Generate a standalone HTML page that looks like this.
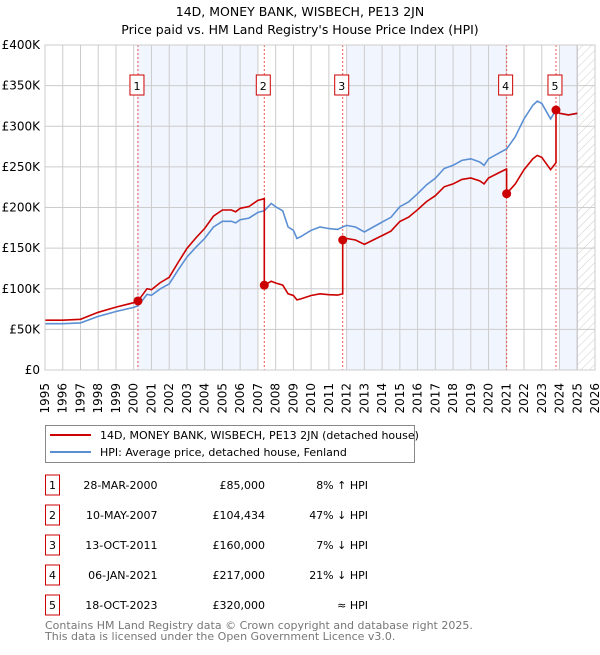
<!DOCTYPE html>
<html><head><meta charset="utf-8"><style>
body{margin:0;background:#fff;font-family:"Liberation Sans","DejaVu Sans",sans-serif;}
svg text{font-family:"DejaVu Sans","Liberation Sans",sans-serif;}
</style></head><body>
<svg width="600" height="650" viewBox="0 0 600 650" xmlns="http://www.w3.org/2000/svg">
<defs><pattern id="hatch" width="6" height="6" patternUnits="userSpaceOnUse" patternTransform="rotate(45)"><line x1="0" y1="0" x2="0" y2="6" stroke="#ccc" stroke-width="1"/></pattern></defs>
<g id="root"></g>
</svg>
<script>
const hpiYears=[1995,1996,1997,1998,1999,2000,2000.24,2000.5,2000.75,2001,2001.5,2002,2002.5,2003,2003.5,2004,2004.5,2005,2005.5,2005.75,2006,2006.5,2007,2007.36,2007.75,2008,2008.4,2008.7,2009,2009.2,2009.4,2010,2010.5,2011,2011.5,2011.78,2012,2012.5,2013,2013.5,2014,2014.5,2015,2015.5,2016,2016.5,2017,2017.5,2018,2018.5,2019,2019.5,2019.75,2020,2020.5,2021,2021.02,2021.5,2022,2022.5,2022.75,2023,2023.5,2023.8,2024,2024.5,2025];
const hpiValues=[57,57,58,66,72,77,79,86,93,92,100,106,123,139,151,162,176,183,183,181,185,187,194,196,205,201,196,176,172,162,164,172,176,174,173,176,178,176,170,176,182,188,201,207,217,228,236,248,252,258,260,256,252,260,266,272,272,287,309,326,331,328,309,320,316,314,316];
const saleYears=[2000.24,2007.36,2011.78,2021.02,2023.8];
const salePrices=[85,104.434,160,217,320];
const saleLabels=["1","2","3","4","5"];
const saleDates=["28-MAR-2000","10-MAY-2007","13-OCT-2011","06-JAN-2021","18-OCT-2023"];
const salePriceText=["£85,000","£104,434","£160,000","£217,000","£320,000"];
const saleHpiText=["8% ↑ HPI","47% ↓ HPI","7% ↓ HPI","21% ↓ HPI","≈ HPI"];
const yTicks=[0,50,100,150,200,250,300,350,400];
const yTickLabels=["£0","£50K","£100K","£150K","£200K","£250K","£300K","£350K","£400K"];
const shadeBands=[[2000.17,2007.0],[2012.0,2021.0],[2024.0,2025.0]];

const NS="http://www.w3.org/2000/svg";
const root=document.getElementById('root');
const L=45,R=595,T=45,B=370,Y0=1995,Y1=2026,VMAX=400;
const xs=y=>L+(y-Y0)/(Y1-Y0)*(R-L);
const ys=v=>B-v/VMAX*(B-T);
function mk(tag,attrs,parent){const e=document.createElementNS(NS,tag);for(const k in attrs)e.setAttribute(k,attrs[k]);(parent||root).appendChild(e);return e;}
function hpiAt(t){if(t<=hpiYears[0])return hpiValues[0];for(let i=1;i<hpiYears.length;i++){if(t<=hpiYears[i]){const f=(t-hpiYears[i-1])/(hpiYears[i]-hpiYears[i-1]);return hpiValues[i-1]+f*(hpiValues[i]-hpiValues[i-1]);}}return hpiValues[hpiValues.length-1];}

shadeBands.forEach((b,i)=>{const r=mk('rect',{x:xs(b[0]),y:T,width:xs(b[1])-xs(b[0]),height:B-T,fill:'#eef3fc',opacity:0.8});

});
const hatch=mk('rect',{x:xs(2025),y:T,width:R-xs(2025),height:B-T,fill:'url(#hatch)'});


mk('line',{x1:xs(2025),y1:T,x2:xs(2025),y2:B,stroke:'#999','stroke-width':1});
for(let y=Y0;y<=Y1;y++){const g=mk('line',{x1:xs(y),y1:T,x2:xs(y),y2:B,stroke:'#ccc','stroke-width':1});


const t=mk('text',{x:0,y:0,transform:`translate(${xs(y)+4},383) rotate(-90)`,'text-anchor':'end','font-size':12,fill:'#000'});t.textContent=y;

}
yTicks.forEach((v,i)=>{const g=mk('line',{x1:L,y1:ys(v),x2:R,y2:ys(v),stroke:'#ccc','stroke-width':1});


const t=mk('text',{x:40,y:ys(v)+4,'text-anchor':'end','font-size':12,fill:'#000'});t.textContent=yTickLabels[i];

});
saleYears.forEach((s,i)=>{const l=mk('line',{x1:xs(s),y1:T,x2:xs(s),y2:B,stroke:'#e55','stroke-width':1,'stroke-dasharray':'2,2'});

});
let d='';hpiYears.forEach((y,i)=>{d+=(i?'L':'M')+xs(y).toFixed(1)+','+ys(hpiValues[i]).toFixed(1);});
const hl=mk('path',{d,fill:'none',stroke:'#5b8fd4','stroke-width':1.6});


const ratios=saleYears.map((s,i)=>salePrices[i]/hpiAt(s));
function ratioFor(t){let r=ratios[0];for(let i=0;i<saleYears.length;i++)if(t>=saleYears[i])r=ratios[i];return r;}
const times=hpiYears.concat(saleYears).filter((v,i,a)=>a.indexOf(v)===i).sort((a,b)=>a-b);
let pd='';let first=true;
times.forEach(t=>{const si=saleYears.indexOf(t);
 if(si>0){const prev=hpiAt(t)*ratios[si-1];pd+='L'+xs(t).toFixed(1)+','+ys(prev).toFixed(1);}
 const v=hpiAt(t)*ratioFor(t);pd+=(first?'M':'L')+xs(t).toFixed(1)+','+ys(v).toFixed(1);first=false;});
const rl=mk('path',{d:pd,fill:'none',stroke:'#cc0000','stroke-width':1.6});


saleYears.forEach((s,i)=>{const c=mk('circle',{cx:xs(s),cy:ys(salePrices[i]),r:4.5,fill:'#cc0000'});


const bx=mk('rect',{x:xs(s)-8,y:75,width:14,height:20,fill:'#fff',stroke:'#cc0000','stroke-width':1});


const t=mk('text',{x:xs(s)-1,y:90,'text-anchor':'middle','font-size':11,fill:'#000'});t.textContent=saleLabels[i];

});
mk('rect',{x:L,y:T,width:R-L,height:B-T,fill:'none',stroke:'#ccc','stroke-width':1});
[["14D, MONEY BANK, WISBECH, PE13 2JN",16,'chart-title'],["Price paid vs. HM Land Registry's House Price Index (HPI)",34,'chart-subtitle']].forEach(a=>{const t=mk('text',{x:300,y:a[1],'text-anchor':'middle','font-size':12.5,fill:'#000'});t.textContent=a[0];

});
const lg=mk('g',{});


mk('rect',{x:45.5,y:425.5,width:369,height:37,fill:'#fff',stroke:'#888','stroke-width':1},lg);
[["14D, MONEY BANK, WISBECH, PE13 2JN (detached house)",'#cc0000',435],["HPI: Average price, detached house, Fenland",'#5b8fd4',452]].forEach((a,i)=>{
mk('line',{x1:50,y1:a[2],x2:91,y2:a[2],stroke:a[1],'stroke-width':2},lg);
const t=mk('text',{x:100,y:a[2]+4,'font-size':11,fill:'#000'},lg);t.textContent=a[0];

});
saleYears.forEach((s,i)=>{const cy=485+30*i;
const bx=mk('rect',{x:45.5,y:cy-10,width:14,height:20,fill:'#fff',stroke:'#cc0000','stroke-width':1});


[[saleLabels[i],52.5,'middle'],[saleDates[i],157.5,'end'],[salePriceText[i],265,'end'],[saleHpiText[i],368,'end']].forEach(c=>{
const t=mk('text',{x:c[1],y:cy+4,'text-anchor':c[2],'font-size':11,fill:'#000'});t.textContent=c[0];

});});
[["Contains HM Land Registry data © Crown copyright and database right 2025.",629],["This data is licensed under the Open Government Licence v3.0.",640]].forEach(a=>{const t=mk('text',{x:45,y:a[1],'font-size':11,fill:'#777'});t.textContent=a[0];

});
</script>
</body></html>
